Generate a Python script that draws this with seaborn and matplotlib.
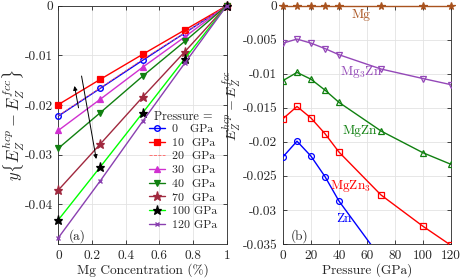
import matplotlib
matplotlib.use('Agg')
import matplotlib.pyplot as plt
import seaborn as sns
import pandas as pd

# ---------------- data ----------------
pressures = [0, 10, 20, 30, 40, 70, 100, 120]
mg    = [0.0, 0.0, 0.0, 0.0, 0.0, 0.0, 0.0, 0.0]
mg3zn = [-0.0055, -0.0049, -0.0055, -0.0063, -0.0072, -0.0093, -0.0107, -0.0116]
mgzn  = [-0.0110, -0.0098, -0.0108, -0.0124, -0.0142, -0.0184, -0.0216, -0.0233]
mgzn3 = [-0.0166, -0.0148, -0.0165, -0.0188, -0.0215, -0.0278, -0.0324, -0.0352]
zn    = [-0.0222, -0.0199, -0.0221, -0.0251, -0.0287, -0.0371, -0.0431, -0.0467]

concentration = [0, 0.25, 0.5, 0.75, 1.0]
legend_labels = ['0   GPa', '10  GPa', '20  GPa', '30  GPa', '40  GPa',
                 '70  GPa', '100 GPa', '120 GPa']

left_xticks = [0, 0.2, 0.4, 0.6, 0.8, 1]
left_xticklabels = ['0', '0.2', '0.4', '0.6', '0.8', '1']
left_yticks = [0, -0.01, -0.02, -0.03, -0.04]
left_yticklabels = ['0', '-0.01', '-0.02', '-0.03', '-0.04']
right_xticks = [0, 20, 40, 60, 80, 100, 120]
right_xticklabels = ['0', '20', '40', '60', '80', '100', '120']
right_yticks = [0, -0.005, -0.01, -0.015, -0.02, -0.025, -0.03, -0.035]
right_yticklabels = ['0', '-0.005', '-0.01', '-0.015', '-0.02', '-0.025', '-0.03', '-0.035']

# ---------------- style ----------------
sns.set_style('ticks')
plt.rcParams.update({
    'font.family': ['serif'],
    'font.serif': ['cmr10', 'DejaVu Serif'],
    'mathtext.fontset': 'cm',
    'axes.unicode_minus': False,
    'font.size': 9.6,
    'axes.edgecolor': '#262626',
    'axes.linewidth': 0.6,
    'xtick.direction': 'in',
    'ytick.direction': 'in',
    'xtick.major.size': 3,
    'ytick.major.size': 3,
    'xtick.major.width': 0.6,
    'ytick.major.width': 0.6,
    'xtick.color': '#262626',
    'ytick.color': '#262626',
})

fig = plt.figure(figsize=(4.63, 2.78), dpi=100)
axL = fig.add_axes([0.126, 0.1223, 0.3637, 0.8572])
axR = fig.add_axes([0.6112, 0.1223, 0.3629, 0.8572])


def draw(ax, df, x, y, color, marker=None, ms=4, mfc=None, mec=None, ls='-',
         lw=1.0, mew=0.9, label=None, clip=True):
    sns.lineplot(data=df, x=x, y=y, ax=ax, label=label, color=color,
                 linewidth=lw, sort=False, errorbar=None, zorder=3)
    line = ax.lines[-1]
    line.set_linestyle(ls)
    line.set_linewidth(lw)
    line.set_color(color)
    line.set_clip_on(clip)
    if marker is not None:
        line.set_marker(marker)
        line.set_markersize(ms)
        line.set_markeredgewidth(mew)
        line.set_markeredgecolor(mec if mec is not None else color)
        line.set_markerfacecolor(mfc if mfc is not None else color)
    else:
        line.set_marker('None')


# ---------------- left panel ----------------
series = [zn, mgzn3, mgzn, mg3zn, mg]
left_styles = [
    dict(color='#0000ff', marker='o', ms=4, mfc='none', mew=1.0),
    dict(color='#ff0000', marker='s', ms=3.8),
    dict(color='#ff6060', ls='--', lw=0.6),
    dict(color='#d030d0', marker='^', ms=4.5),
    dict(color='#108010', marker='v', ms=4.5),
    dict(color='#a0283e', marker='*', ms=6.5),
    dict(color='#00ff00', marker='*', ms=6.5, mfc='k', mec='k'),
    dict(color='#8a40b0', marker='x', ms=3.5, mew=1.0),
]
for i, p in enumerate(pressures):
    yvals = [s[i] for s in series]
    df = pd.DataFrame({'c': concentration, 'e': yvals})
    draw(axL, df, 'c', 'e', label=legend_labels[i], clip=False, **left_styles[i])

axL.set_xlim(0, 1)
axL.set_ylim(-0.04795, 0)
axL.set_xticks(left_xticks)
axL.set_xticklabels(left_xticklabels)
axL.set_yticks(left_yticks)
axL.set_yticklabels(left_yticklabels)
axL.grid(True, color='#e3e3e3', linewidth=0.6)
axL.set_axisbelow(True)
axL.tick_params(top=True, right=True, pad=4)
axL.set_xlabel('Mg Concentration (%)', labelpad=1)
axL.set_ylabel(r'$y\left\{E_Z^{hcp}-E_Z^{fcc}\right\}$', fontsize=12)
axL.yaxis.set_label_coords(-0.19, 0.5)

axL.annotate('', xy=(0.093, -0.0156), xytext=(0.123, -0.0211),
             arrowprops=dict(arrowstyle='-|>', color='k', lw=0.7, mutation_scale=6))
axL.annotate('', xy=(0.228, -0.0314), xytext=(0.135, -0.0136),
             arrowprops=dict(arrowstyle='-|>', color='k', lw=0.7, mutation_scale=6))
axL.text(0.109, 0.034, '(a)', transform=axL.transAxes, ha='center', va='center')

axL.text(0.568, 0.533, 'Pressure =', transform=axL.transAxes, ha='left',
         va='center', fontsize=8.8)
leg = axL.legend(loc='upper left', bbox_to_anchor=(0.54, 0.505), frameon=False,
                 fontsize=8.6, handlelength=1.3, handletextpad=0.6,
                 labelspacing=0.28, borderpad=0.0, borderaxespad=0)

# ---------------- right panel ----------------
right_series = [
    (mg, dict(color='#a9531f', marker='*', ms=5.5, clip=False)),
    (mg3zn, dict(color='#9448b8', marker='v', ms=4.5, mfc='none')),
    (mgzn, dict(color='#108010', marker='^', ms=4.5, mfc='none')),
    (mgzn3, dict(color='#ff0000', marker='s', ms=3.8, mfc='none')),
    (zn, dict(color='#0000ff', marker='o', ms=4.2, mfc='none')),
]
for vals, st in right_series:
    df = pd.DataFrame({'p': pressures, 'e': vals})
    draw(axR, df, 'p', 'e', **st)
if axR.get_legend() is not None:
    axR.get_legend().remove()

axR.set_xlim(0, 120)
axR.set_ylim(-0.035, 0)
axR.set_xticks(right_xticks)
axR.set_xticklabels(right_xticklabels)
axR.set_yticks(right_yticks)
axR.set_yticklabels(right_yticklabels)
axR.grid(True, color='#e3e3e3', linewidth=0.6)
axR.set_axisbelow(True)
axR.tick_params(top=True, right=True, pad=4)
axR.set_xlabel('Pressure (GPa)', labelpad=1)
axR.set_ylabel(r'$E_Z^{hcp}-E_Z^{fcc}$', fontsize=10.2)
axR.yaxis.set_label_coords(-0.235, 0.58)

axR.text(56, -0.00136, 'Mg', color='#a9531f', ha='center', va='center')
axR.text(56, -0.0098, r'Mg$_3$Zn', color='#9448b8', ha='center', va='center')
axR.text(55, -0.0184, 'MgZn', color='#108010', ha='center', va='center')
axR.text(48, -0.0265, r'MgZn$_3$', color='#ff0000', ha='center', va='center')
axR.text(43.6, -0.0313, 'Zn', color='#0000ff', ha='center', va='center')
axR.text(0.10, 0.034, '(b)', transform=axR.transAxes, ha='center', va='center')

fig.savefig('out.png', dpi=100)
